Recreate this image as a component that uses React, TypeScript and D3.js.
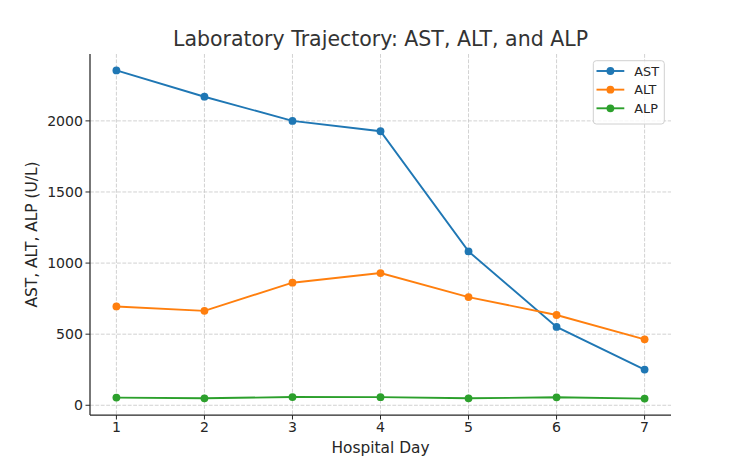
import React from "react";
import * as d3 from "d3";

// Hospital days on the x axis
const days = [1, 2, 3, 4, 5, 6, 7];

// Enzyme values (U/L) per day
const astValues = [2355, 2170, 2000, 1927, 1082, 551, 251];
const altValues = [695, 664, 862, 930, 761, 635, 464];
const alpValues = [54, 49, 58, 57, 49, 56, 47];

const seriesNames = ["AST", "ALT", "ALP"];
const seriesColors = ["#1f77b4", "#ff7f0e", "#2ca02c"];

const yTicks = [0, 500, 1000, 1500, 2000];

const W = 750;
const H = 467;
const left = 90;
const right = 671;
const top = 54;
const bottom = 415;

export default function App() {
  const series = [astValues, altValues, alpValues];
  const all = series.flat();
  const minV = d3.min(all) as number;
  const maxV = d3.max(all) as number;
  const pad = (maxV - minV) * 0.05;

  const x = d3.scaleLinear().domain([0.7, 7.3]).range([left, right]);
  const y = d3.scaleLinear().domain([minV - pad, maxV + pad]).range([bottom, top]);

  const line = d3
    .line<number>()
    .x((_, i) => x(days[i]))
    .y((d) => y(d));

  const font = "'DejaVu Sans', sans-serif";
  const textColor = "#262626";

  return (
    <svg
      width={W}
      height={H}
      style={{ position: "absolute", left: 0, top: 0, background: "#fff" }}
      fontFamily={font}
    >
      <rect width={W} height={H} fill="#fff" />
      {/* grid */}
      <g stroke="#b0b0b0" strokeWidth={0.8} strokeDasharray="3.8 1.6" opacity={0.7}>
        {days.map((d) => (
          <line key={"gx" + d} x1={x(d)} x2={x(d)} y1={top} y2={bottom} />
        ))}
        {yTicks.map((t) => (
          <line key={"gy" + t} x1={left} x2={right} y1={y(t)} y2={y(t)} />
        ))}
      </g>

      {/* series */}
      {series.map((vals, si) => (
        <g key={seriesNames[si]}>
          <path d={line(vals) || ""} fill="none" stroke={seriesColors[si]} strokeWidth={1.9} />
          {vals.map((v, i) => (
            <circle key={i} cx={x(days[i])} cy={y(v)} r={3.9} fill={seriesColors[si]} />
          ))}
        </g>
      ))}

      {/* spines */}
      <g stroke={textColor} strokeWidth={1.25}>
        <line x1={left} x2={left} y1={top} y2={bottom} />
        <line x1={left} x2={right} y1={bottom} y2={bottom} />
      </g>

      {/* x ticks */}
      {days.map((d) => (
        <g key={"xt" + d}>
          <line x1={x(d)} x2={x(d)} y1={bottom} y2={bottom + 4.5} stroke={textColor} strokeWidth={1} />
          <text x={x(d)} y={432} textAnchor="middle" fontSize={14.1} fill={textColor}>
            {d}
          </text>
        </g>
      ))}

      {/* y ticks */}
      {yTicks.map((t) => (
        <g key={"yt" + t}>
          <line x1={left - 4.5} x2={left} y1={y(t)} y2={y(t)} stroke={textColor} strokeWidth={1} />
          <text x={83} y={y(t)} dy="0.36em" textAnchor="end" fontSize={14.1} fill={textColor}>
            {t}
          </text>
        </g>
      ))}

      {/* axis labels */}
      <text x={(left + right) / 2} y={453} textAnchor="middle" fontSize={15.4} fill={textColor}>
        Hospital Day
      </text>
      <text
        transform={`translate(37, ${(top + bottom) / 2}) rotate(-90)`}
        textAnchor="middle"
        fontSize={15.4}
        fill={textColor}
      >
        AST, ALT, ALP (U/L)
      </text>

      {/* title */}
      <text x={(left + right) / 2} y={46} textAnchor="middle" fontSize={20.5} fill="#333">
        Laboratory Trajectory: AST, ALT, and ALP
      </text>

      {/* legend */}
      <g>
        <rect x={593.3} y={60.7} width={71} height={63.3} rx={3} fill="#fff" fillOpacity={0.8} stroke="#d0d0d0" strokeWidth={1} />
        {seriesNames.map((n, i) => {
          const ly = 71 + i * 18.65;
          return (
            <g key={n}>
              <line x1={596.5} x2={624.3} y1={ly} y2={ly} stroke={seriesColors[i]} strokeWidth={1.9} />
              <circle cx={610.4} cy={ly} r={3.9} fill={seriesColors[i]} />
              <text x={634.3} y={ly} dy="0.36em" fontSize={12.8} fill={textColor}>
                {n}
              </text>
            </g>
          );
        })}
      </g>
    </svg>
  );
}
